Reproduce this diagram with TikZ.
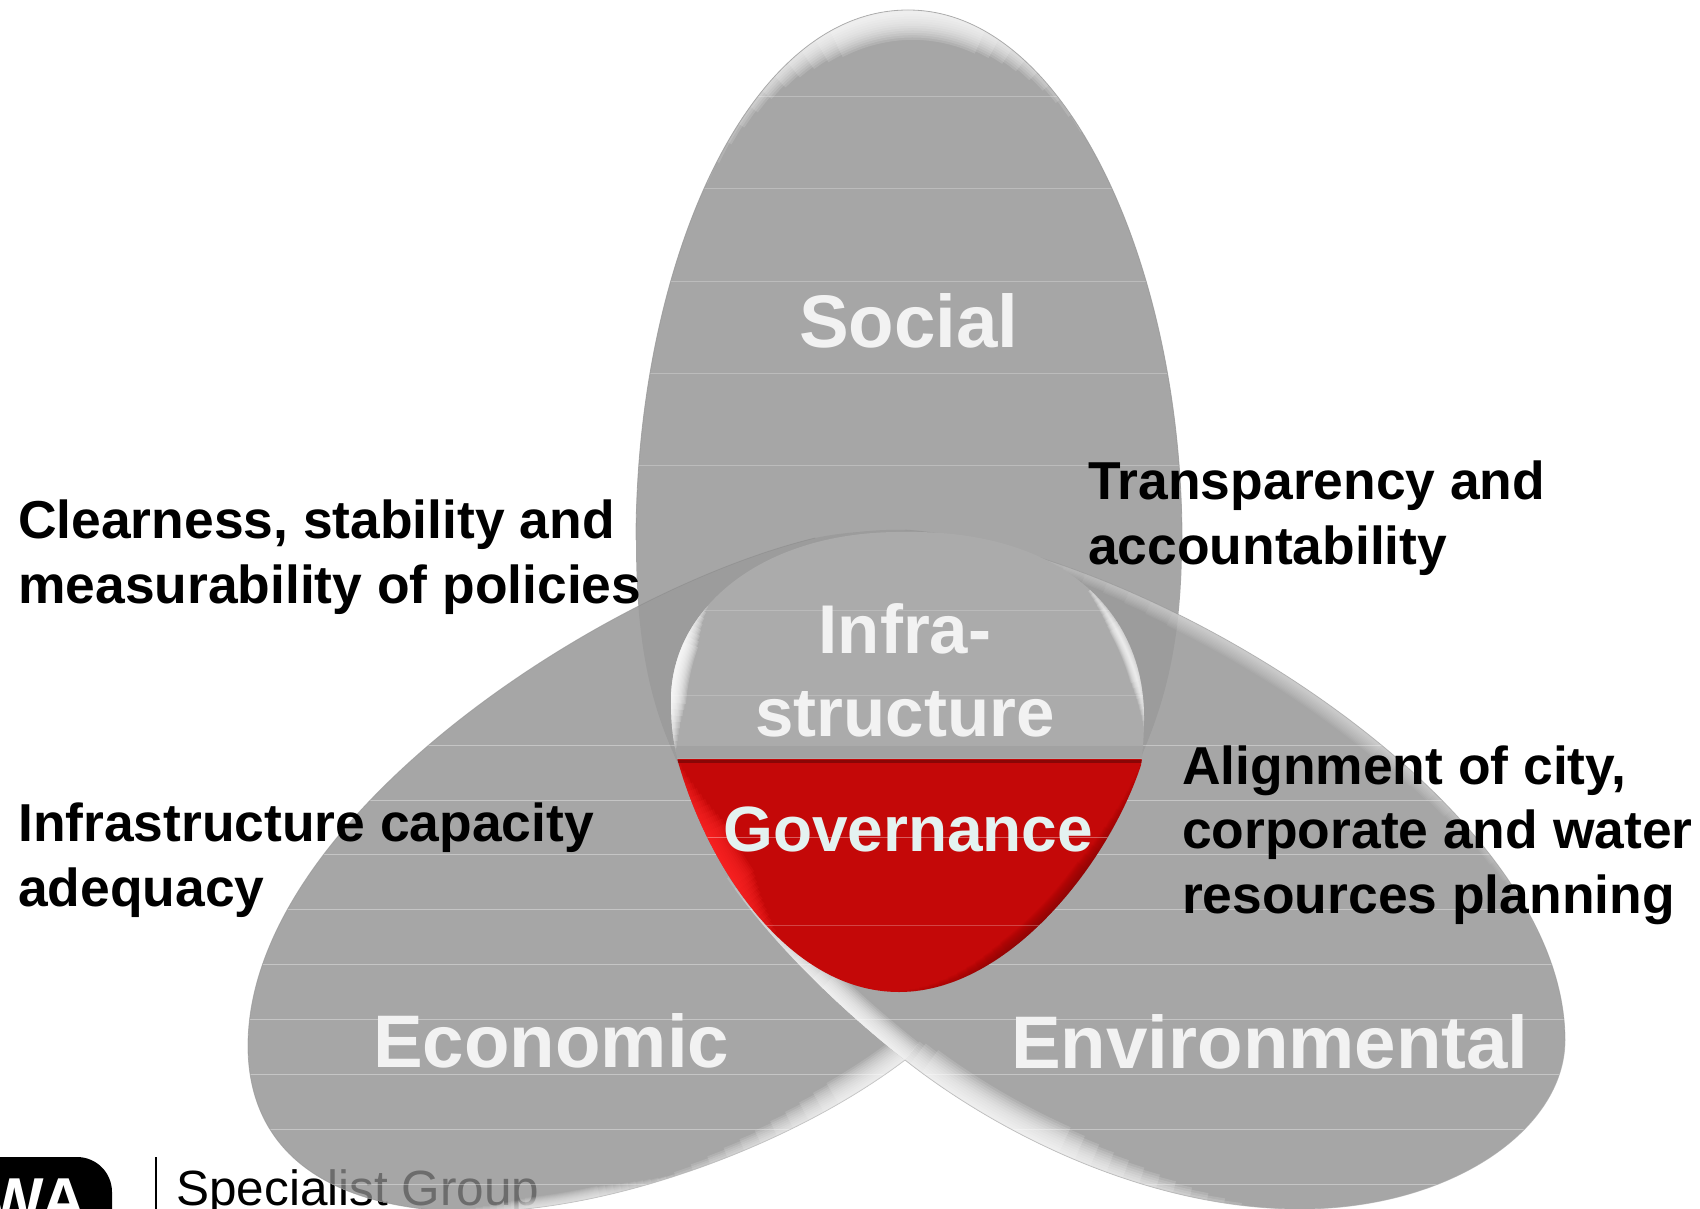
\documentclass[tikz,border=0pt]{standalone}
\usepackage{fontspec}
\setmainfont{Liberation Sans}
\definecolor{petal}{HTML}{A6A6A6}
\definecolor{capgray}{HTML}{ABABAB}
\definecolor{capred}{HTML}{C40808}
\definecolor{capwhite}{HTML}{F2F2F2}
\definecolor{govwhite}{HTML}{E4F2F0}
\def\pS{(908,10) .. controls (1068,10) and (1182,270) .. (1182,540) .. controls (1182,640) and (1165,700) .. (1144,750) .. controls (1100,860) and (1000,950) .. (908,950) .. controls (820,950) and (715,860) .. (672,750) .. controls (650,700) and (636,640) .. (636,540) .. controls (636,270) and (745,10) .. (908,10) -- cycle}
\def\pE{(815,538) .. controls (600,590) and (248,820) .. (248,1046) .. controls (248,1130) and (300,1209) .. (470,1212) .. controls (620,1212) and (800,1140) .. (905,1060) .. controls (1020,970) and (1110,850) .. (1110,720) .. controls (1110,570) and (950,510) .. (815,538) -- cycle}
\def\pV{(905,530) .. controls (1140,545) and (1565,800) .. (1565,1040) .. controls (1565,1130) and (1450,1209) .. (1300,1209) .. controls (1150,1209) and (1000,1135) .. (905,1060) .. controls (810,985) and (684,860) .. (672,750) .. controls (655,640) and (750,525) .. (905,530) -- cycle}
\def\pC{(906,532) .. controls (1060,530) and (1144,610) .. (1144,717) .. controls (1144,735) and (1143,750) .. (1141,765) .. controls (1110,860) and (1010,992) .. (899,992) .. controls (790,992) and (710,870) .. (679,765) .. controls (672,740) and (671,720) .. (671,700) .. controls (671,610) and (760,530) .. (906,532) -- cycle}
\tikzset{
  x=1pt,y=-1pt,
  rimline/.style={draw=#1,line width=.8pt},
  scanline/.style={draw=white,line width=.8pt,opacity=#1},
  bigword/.style={text=capwhite,inner sep=0pt,anchor=base west,font=\fontsize{74.5}{80}\selectfont\bfseries},
  blacklabel/.style={text=black,inner sep=0pt,anchor=base west,align=left,font=\fontsize{53.4}{64.5}\selectfont\bfseries},
  sgtext/.style={inner sep=0pt,anchor=base west,font=\fontsize{49.5}{50}\selectfont}
}
% soft tapering glow along one cubic: \glowset{colour}{mid t}{half span}{max width}{layer opacity}
\def\glowset#1#2#3#4#5{\def\gc{#1}\def\gt{#2}\def\gs{#3}\def\gw{#4}\def\go{#5}}
\def\rimglow(#1,#2)(#3,#4)(#5,#6)(#7,#8){%
  \foreach \k in {1,...,12}{%
    \pgfmathsetmacro\wd{\gw*(13-\k)/12}%
    \pgfmathsetmacro\tA{max(0,\gt-\gs*(0.25+0.75*\k/12))}%
    \pgfmathsetmacro\tB{min(1,\gt+\gs*(0.25+0.75*\k/12))}%
    \draw[\gc,line width=\wd pt,opacity=\go,domain=\tA:\tB,samples=30,smooth,variable=\tt]
      plot ({(1-\tt)^3*#1+3*(1-\tt)^2*\tt*#3+3*(1-\tt)*\tt^2*#5+\tt^3*#7},
            {(1-\tt)^3*#2+3*(1-\tt)^2*\tt*#4+3*(1-\tt)*\tt^2*#6+\tt^3*#8});
  }}
\begin{document}
\begin{tikzpicture}
\useasboundingbox (0,0) rectangle (1700,1209);
\clip (0,0) rectangle (1700,1209);
\fill[white] (0,0) rectangle (1700,1209);
% logo
\fill[black,rounded corners=35pt] (-40,1157) -- (112,1157) -- (112,1260) -- (-40,1260) -- cycle;
\node[text=white,inner sep=0pt,anchor=base east,font=\fontsize{62}{62}\selectfont\bfseries] (logo) at (86,1221) {WA};
\draw[black,line width=1.2pt] (156,1157) -- (156,1209);
\node[sgtext,text=black] (sg) at (176,1205) {Specialist Group};
% social petal
\fill[petal] \pS;
\begin{scope}
  \clip \pS;
  \foreach \yy in {96,188,281,373,465} \draw[scanline=.25] (600,\yy) -- (1200,\yy);
  \glowset{white}{.5}{.52}{56}{.14}
  \rimglow(700,190)(790,-45)(1030,-45)(1110,175)
\end{scope}
\draw[rimline=gray!85,opacity=.7] (636,540) .. controls (636,270) and (745,10) .. (908,10) .. controls (1068,10) and (1182,270) .. (1182,540);
% economic petal
\fill[petal] \pE;
\begin{scope}
  \clip \pE;
  \node[sgtext,text=black!35!petal] (sgover) at (176,1205) {Specialist Group};
  \foreach \yy in {745,800,854,909,964,1019,1074,1129,1184} \draw[scanline=.35] (200,\yy) -- (920,\yy);
  \glowset{white}{1}{.6}{48}{.13}
  \rimglow(470,1212)(620,1212)(800,1140)(905,1060)
  \glowset{white}{.2}{.25}{22}{.09}
  \rimglow(470,1212)(620,1212)(800,1140)(905,1060)
\end{scope}
\draw[rimline=gray!60,opacity=.6] (470,1212) .. controls (620,1212) and (800,1140) .. (905,1060);
\draw[rimline=gray!85,opacity=.6] (815,538) .. controls (600,590) and (248,820) .. (248,1046) .. controls (248,1130) and (300,1209) .. (470,1212);
% overlap of social and economic
\begin{scope}\clip \pS; \fill[black,opacity=.06] \pE; \end{scope}
% environmental petal
\fill[petal] \pV;
\begin{scope}\clip \pS; \fill[black,opacity=.06] \pV; \end{scope}
\begin{scope}
  \clip \pV;
  \foreach \yy in {745,800,854,909,964,1019,1074,1129,1184} \draw[scanline=.35] (660,\yy) -- (1600,\yy);
  \glowset{white}{.75}{.62}{56}{.14}
  \rimglow(1300,1209)(1150,1209)(1000,1135)(905,1060)
  \glowset{white}{.12}{.5}{44}{.14}
  \rimglow(905,1060)(810,985)(684,860)(672,750)
  \glowset{white}{.45}{.4}{30}{.05}
  \rimglow(905,530)(1140,545)(1565,800)(1565,1040)
\end{scope}
\draw[rimline=gray!70,opacity=.6] (1565,1040) .. controls (1565,1130) and (1450,1209) .. (1300,1209) .. controls (1150,1209) and (1000,1135) .. (905,1060);
\draw[rimline=gray!85,opacity=.5] (905,530) .. controls (1140,545) and (1565,800) .. (1565,1040);
% cap
\begin{scope}
  \clip \pC;
  \fill[capgray] (600,500) rectangle (1200,760);
  \fill[capred] (600,759) rectangle (1200,1010);
  \begin{scope}
    \clip (600,500) rectangle (1200,758);
    \draw[black,line width=12pt,opacity=.05] (640,752) -- (1170,752);
    \glowset{white}{.5}{.55}{30}{.17}
    \rimglow(672,765)(665,700)(675,640)(712,590)
    \glowset{white}{.6}{.5}{14}{.12}
    \rimglow(1146,762)(1150,700)(1130,640)(1090,590)
    \foreach \yy in {610,695} \draw[scanline=.18] (660,\yy) -- (1150,\yy);
  \end{scope}
  \begin{scope}
    \clip (600,760) rectangle (1200,1010);
    \glowset{red!85!white}{.35}{.35}{48}{.16}
    \rimglow(679,765)(710,870)(760,930)(838,983)
    \glowset{black!45!capred}{.5}{.5}{24}{.06}
    \rimglow(1141,765)(1110,860)(1010,992)(899,992)
    \draw[black!30!capred,line width=6pt] (600,760) -- (1200,760);
    \draw[scanline=.35] (690,837) -- (1110,837);
    \draw[scanline=.25] (765,925) -- (1050,925);
  \end{scope}
\end{scope}
% labels
\node[bigword] (social) at (799,347) {Social};
\node[bigword] (economic) at (373,1067) {Economic};
\node[bigword] (env) at (1011,1068) {Environmental};
\node[text=capwhite,inner sep=0pt,anchor=base,font=\fontsize{69}{83}\selectfont\bfseries,align=center] (infra) at (905,736) {Infra-\\structure};
\node[text=govwhite,inner sep=0pt,anchor=base west,font=\fontsize{64}{70}\selectfont\bfseries] (gov) at (723,851) {Governance};
\node[blacklabel] (l1) at (18,603) {Clearness, stability and\\measurability of policies};
\node[blacklabel] (l2) at (18,906) {Infrastructure capacity\\adequacy};
\node[blacklabel] (l3) at (1088,564) {Transparency and\\accountability};
\node[blacklabel] (l4) at (1182,913) {Alignment of city,\\corporate and water\\resources planning};
\end{tikzpicture}
\end{document}
